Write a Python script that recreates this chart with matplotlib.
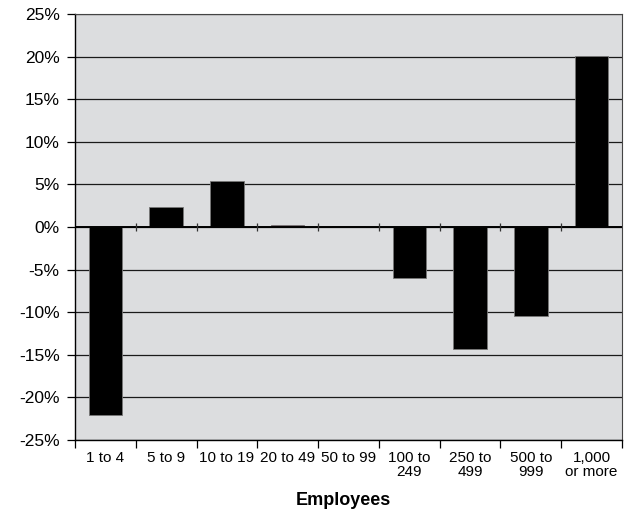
import numpy as np
import matplotlib.pyplot as plt

plt.rcParams['font.family'] = ['Liberation Sans', 'DejaVu Sans']

# data
categories = ["1 to 4", "5 to 9", "10 to 19", "20 to 49", "50 to 99",
              "100 to\n249", "250 to\n499", "500 to\n999", "1,000\nor more"]
change = [-22.1, 2.4, 5.4, 0.2, 0.1, -5.95, -14.3, -10.5, 20.1]
bar_colors = ["black", "black", "black", "#5c0a2e", "black",
              "black", "black", "black", "black"]
yticks = [-25, -20, -15, -10, -5, 0, 5, 10, 15, 20, 25]

fig = plt.figure(figsize=(6.24, 5.12), dpi=100)
ax = fig.add_axes([75/624, 72/512, 547/624, 426/512])
ax.set_facecolor("#dcdddf")

x = np.arange(len(categories))
ax.bar(x, change, width=0.55, color=bar_colors, edgecolor="#777777",
       linewidth=0.6, zorder=3)

ax.set_xlim(-0.5, len(categories) - 0.5)
ax.set_ylim(-25, 25)

# gridlines
for y in yticks:
    ax.axhline(y, color="#1a1a1a", lw=0.9, zorder=1)
ax.axhline(0, color="black", lw=1.4, zorder=4)

# ticks on the zero line at category boundaries
bounds = np.arange(len(categories) + 1) - 0.5
ax.plot(bounds[1:-1], np.zeros(len(bounds) - 2), linestyle="none",
        marker="|", markersize=6, color="#333333", mew=0.9, zorder=4)

ax.set_yticks(yticks)
ax.set_yticklabels([f"{v}%" for v in yticks], fontsize=12.5)
ax.tick_params(axis="y", direction="out", length=6, width=0.9, pad=5)

ax.set_xticks(bounds)
ax.set_xticklabels([])
ax.tick_params(axis="x", direction="out", length=6, width=0.9)

for i, lab in enumerate(categories):
    ax.text(i, -0.026, lab, transform=ax.get_xaxis_transform(),
            ha="center", va="top", fontsize=11, linespacing=1.0,
            family=["Liberation Sans Narrow", "Liberation Sans"])

ax.text(0.49, -0.142, "Employees", transform=ax.transAxes, ha="center",
        va="center", fontsize=13, fontweight="bold")

for s in ["top", "right"]:
    ax.spines[s].set_linewidth(0.8)
    ax.spines[s].set_color("#444444")
for s in ["left", "bottom"]:
    ax.spines[s].set_linewidth(1.0)
    ax.spines[s].set_color("black")

plt.savefig("out.png", dpi=100)
